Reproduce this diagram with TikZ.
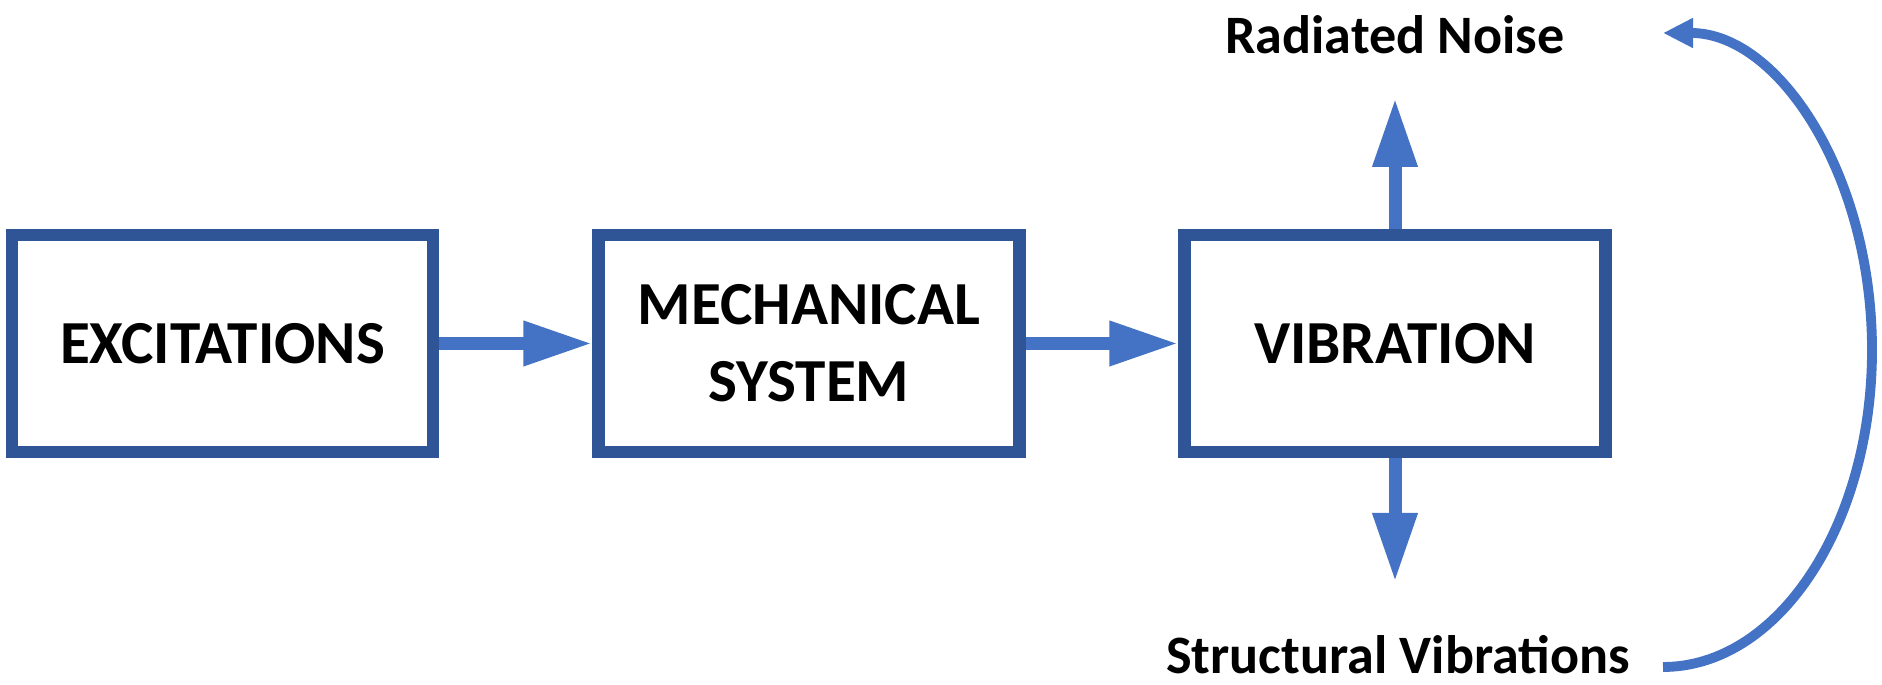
\documentclass[tikz,border=0pt]{standalone}
\usepackage{fontspec}
\setmainfont{Carlito}
\usepackage{xcolor}
\usepackage{tikz}
\usetikzlibrary{arrows.meta, positioning, calc}

\definecolor{boxblue}{HTML}{2F5597}
\definecolor{arrowblue}{HTML}{4472C4}

\tikzset{
  block/.style={draw=boxblue, line width=3.5pt, minimum width=4.21cm, minimum height=2.17cm,
    align=center, inner sep=0pt, font=\fontsize{17.4}{22}\selectfont\bfseries},
  label/.style={inner sep=0pt, font=\fontsize{15.4}{18}\selectfont\bfseries},
  flow/.style={arrowblue, line width=3.7pt, -{Triangle[length=6.9mm, width=4.2mm]}},
  loopback/.style={arrowblue, line width=2.8pt, -{Triangle[length=3mm, width=2.8mm]}}
}

\begin{document}
\begin{tikzpicture}
\useasboundingbox (0,0) rectangle (18.82,6.85);

% Blocks
\node[block] (exc)  at (2.225,3.415) {EXCITATIONS};
\node[block] (mech) at (8.09,3.415)  {MECHANICAL\\SYSTEM};
\node[block] (vib)  at (13.95,3.415) {VIBRATION};

% Outputs
\node[label] (rn) at (13.95,6.50) {Radiated Noise};
\node[label] (sv) at (13.98,0.30) {Structural Vibrations};
\coordinate (rntip) at (13.95,5.87);
\coordinate (svtip) at (13.95,1.03);

% Flow arrows
\draw[flow] (exc) -- (mech);
\draw[flow] (mech) -- (vib);
\draw[flow] (vib.north) -- (rntip);
\draw[flow] (vib.south) -- (svtip);

% Feedback loop
\coordinate (loopstart) at (16.63,0.18);
\draw[loopback] (loopstart) arc[start angle=-90, end angle=90, x radius=2.09cm, y radius=3.17cm];
\end{tikzpicture}
\end{document}
